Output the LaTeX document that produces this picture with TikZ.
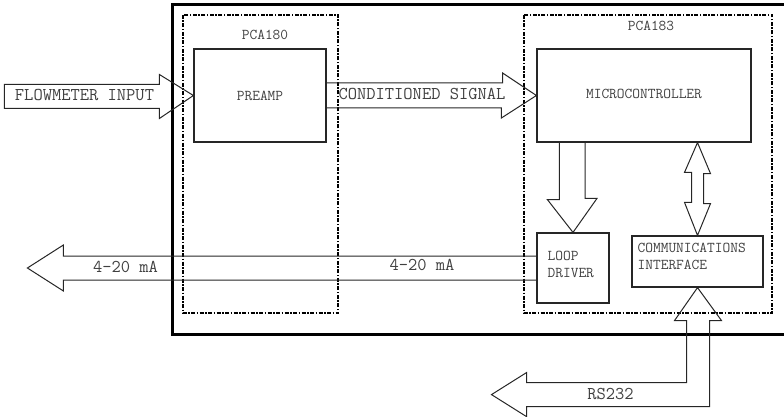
\documentclass[tikz,border=0pt]{standalone}
\usepackage{fontspec}
\usepackage{tikz}
\usetikzlibrary{positioning,calc}

\begin{document}
\begin{tikzpicture}[x=1pt,y=-1pt,
  every node/.style={text=black!75,inner sep=0pt},
  big/.style={font=\ttfamily\fontsize{18}{21}\selectfont},
  sml/.style={font=\ttfamily\fontsize{15}{17}\selectfont,align=left},
  box/.style={draw=black!85,line width=1.2pt},
  blk/.style={draw=black!85,line width=1pt,line join=miter},
  pcb/.style={draw,line width=1.3pt,dash pattern=on 4pt off 1.5pt on 1.5pt off 1.5pt}]
  \useasboundingbox (0,0) rectangle (784,417);
  % enclosure and the two boards
  \draw[line width=3pt] (800,5) -- (172,5) -- (172,334) -- (800,334);
  \draw[pcb] (183,15) rectangle (338,313);
  \draw[pcb] (524,15) rectangle (772,313);
  \node[sml] (pcaA) at (265,35) {PCA180};
  \node[sml] (pcaB) at (651,26) {PCA183};
  % blocks
  \node[box,minimum width=132,minimum height=93] (preamp) at (260,95.5) {};
  \node[sml] at (preamp) {PREAMP};
  \node[box,minimum width=214,minimum height=93] (mcu) at (644,95.5) {};
  \node[sml,below=41pt of mcu.north] {MICROCONTROLLER};
  \node[box,minimum width=72,minimum height=70] (loop) at (573,268) {};
  \node[sml,anchor=west] at ($(loop.west)+(11,-4)$) {LOOP\\DRIVER};
  \node[box,minimum width=131,minimum height=51] (comm) at (697.5,261.5) {};
  \node[sml,anchor=west] at ($(comm.west)+(6,-5)$) {COMMUNICATIONS\\INTERFACE};
  % flowmeter input into preamp
  \draw[blk] (preamp.west) -- ++(-34,-21) -- ++(0,10) -- ++(-155,0) -- ++(0,24)
    -- ++(155,0) -- ++(0,10) -- cycle;
  \node[big] at (84.5,95) {FLOWMETER INPUT};
  % conditioned signal
  \draw[blk] ($(preamp.east)+(0,-12.5)$) -- ++(176,0) -- ++(0,-10) -- (mcu.west)
    -- ++(-35,22.5) -- ++(0,-10) -- ++(-176,0);
  \node[big] at (422,94) {CONDITIONED SIGNAL};
  % microcontroller to loop driver
  \draw[blk] ($(mcu.south west)+(23,0)$) -- ++(0,57) -- ++(-12,0) -- (loop.north)
    -- ++(24,-34) -- ++(-12,0) -- ++(0,-57);
  % microcontroller <-> communications interface
  \draw[blk] (mcu.south -| comm.north) -- ++(13,31) -- ++(-7,0) -- ++(0,30) -- ++(7,0)
    -- (comm.north) -- ++(-13,-33) -- ++(7,0) -- ++(0,-30) -- ++(-7,0) -- cycle;
  % 4-20 mA loop output
  \draw[blk] ($(loop.west)+(0,-12)$) -- ++(-473,0) -- ++(0,-11) -- ++(-36,23)
    -- ++(36,23) -- ++(0,-11) -- ++(473,0);
  \node[big] at (125.5,267) {4-20 mA};
  \node[big] at (422,265) {4-20 mA};
  % RS232 port
  \draw[blk] (comm.south) -- ++(24,33) -- ++(-12,0) -- ++(0,86) -- ++(-183,0) -- ++(0,10)
    -- ++(-35,-22) -- ++(35,-22) -- ++(0,10) -- ++(160,0) -- ++(0,-62) -- ++(-12,0) -- cycle;
  \node[big] at (610.5,394) {RS232};
\end{tikzpicture}
\end{document}
